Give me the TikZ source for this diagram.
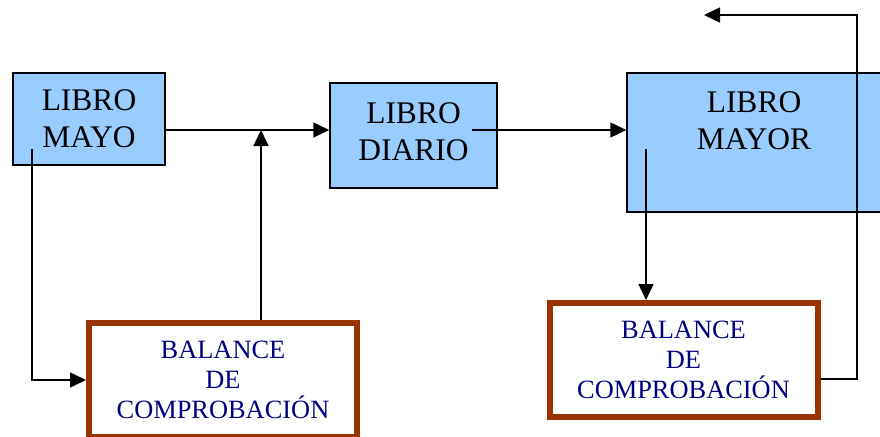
\documentclass[tikz,border=0pt]{standalone}
\usepackage{fontspec}
\setmainfont{Liberation Serif}
\usetikzlibrary{arrows.meta}
\definecolor{lblue}{HTML}{99CCFF}
\definecolor{brownb}{HTML}{993300}
\definecolor{navyt}{HTML}{000080}
\tikzset{
  bluebox/.style={draw=black, fill=lblue, line width=1.5pt, inner sep=0pt, align=center,
    font=\fontsize{31.5}{37}\selectfont},
  bigtext/.style={inner sep=0pt, align=center, font=\fontsize{31.5}{37}\selectfont},
  balbox/.style={draw=brownb, fill=white, line width=6pt, inner sep=0pt, align=center,
    minimum width=268pt, minimum height=114pt, text=navyt,
    font=\fontsize{26.4}{30}\selectfont},
  arr/.style={line width=1.5pt, -{Triangle[length=16pt,width=15pt]}},
  ln/.style={line width=1.5pt}
}
\begin{document}
\begin{tikzpicture}[x=1pt,y=-1pt]
\useasboundingbox (0,0) rectangle (880,436);
% boxes
\node[bluebox, minimum width=152pt, minimum height=92pt] (mayo) at (89,119) {LIBRO\\MAYO};
\node[bluebox, minimum width=167pt, minimum height=105pt, text depth=8pt] (diario) at (413.5,135.5) {LIBRO\\DIARIO};
\node[bluebox, minimum width=256pt, minimum height=139pt] (mayor) at (755,142.5) {};
\node[bigtext] (mayortxt) at (754,121) {LIBRO\\MAYOR};
\node[balbox] (balL) at (223,380) {BALANCE\\DE\\COMPROBACIÓN};
\node[balbox] (balR) at (683.5,360) {BALANCE\\DE\\COMPROBACIÓN};
% junctions and free ends
\coordinate (j) at (261,130);
\coordinate (d) at (472,130);
\coordinate (m) at (32,149);
\coordinate (r) at (646,149);
\coordinate (h) at (0,379);
\coordinate (c1) at (857,15);
\coordinate (tip) at (704,15);
% connectors
\draw[arr] (mayo.east |- j) -- (diario.west |- j);
\draw[arr] (j |- balL.north) -- (j);
\draw[arr] (d) -- (mayor.west |- d);
\draw[arr] (m) |- (balL.west);
\draw[arr] (r) -- (r |- balR.north);
\draw[arr] (balR.east |- h) -| (c1) -- (tip);
\end{tikzpicture}
\end{document}
